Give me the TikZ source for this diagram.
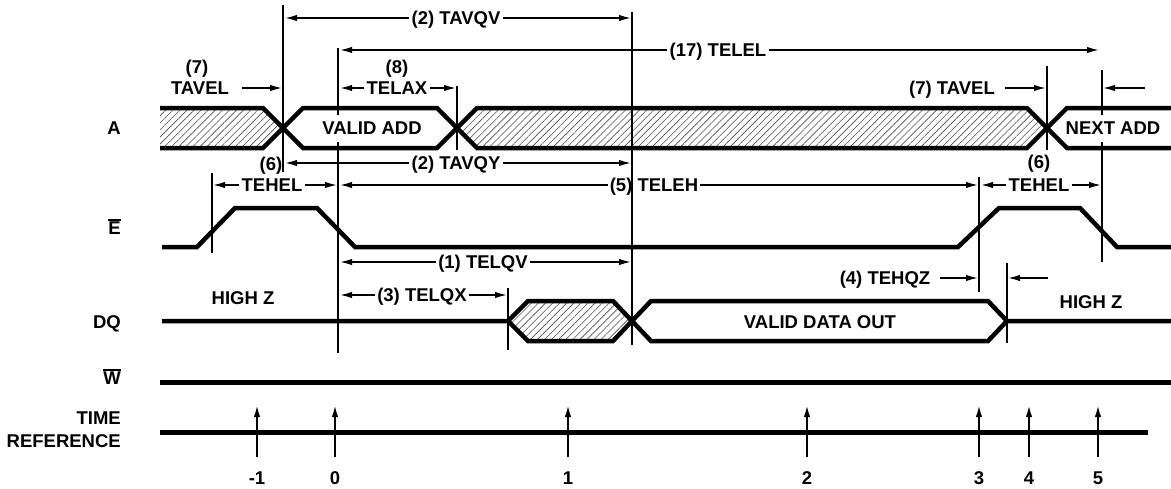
\documentclass[tikz,border=0pt]{standalone}
\usepackage{fontspec}
\setmainfont{Liberation Sans}
\usetikzlibrary{arrows.meta,patterns.meta}
\newcommand\ovlbar[1]{\vbox{\hrule height 1.6pt\kern 1.4pt\hbox{#1}}}
\begin{document}
\begin{tikzpicture}[x=1pt,y=-1pt,
  sig/.style={line width=4.5pt},
  bus/.style={line width=5pt},
  vline/.style={line width=1.5pt},
  dim/.style={line width=1.6pt,-{Latex[length=12pt,width=6.5pt]}},
  tref/.style={line width=2pt,-{Latex[length=12pt,width=6.5pt]}},
  hatch/.style={pattern={Lines[angle=45,distance=5pt,line width=0.6pt]},pattern color=black!70},
  lbl/.style={font=\fontsize{18.5}{21}\bfseries\selectfont,inner sep=2pt,text height=13.3pt,text depth=0pt},
  inlbl/.style={lbl,fill=white,minimum height=27pt,inner sep=1pt},
  sname/.style={lbl,anchor=east}]
\useasboundingbox (0,0) rectangle (1171,488);
% ---- hatched regions
\fill[hatch] (160,108) -- (263,108) -- (283,128) -- (263,148) -- (160,148) -- cycle;
\fill[hatch] (457,128) -- (477,108) -- (1027,108) -- (1047,128) -- (1027,148) -- (477,148) -- cycle;
\fill[hatch] (508,321) -- (528,301) -- (613,301) -- (632,321) -- (613,341) -- (528,341) -- cycle;
% ---- vertical reference lines
\draw[vline] (283,5) -- (283,172);
\draw[vline] (338,48) -- (338,353);
\draw[vline] (457,86) -- (457,150);
\draw[vline] (632,12) -- (632,345);
\draw[vline] (1047,66) -- (1047,150);
\draw[vline] (1102,70) -- (1102,262);
\draw[vline] (212,173) -- (212,253);
\draw[vline] (979,177) -- (979,292);
\draw[vline] (1007,263) -- (1007,343);
\draw[vline] (508,288) -- (508,350);
% ---- A signal
\draw[sig] (160,108) -- (263,108) -- (303,148) -- (437,148) -- (477,108) -- (1027,108) -- (1067,148) -- (1171,148);
\draw[sig] (160,148) -- (263,148) -- (303,108) -- (437,108) -- (477,148) -- (1027,148) -- (1067,108) -- (1171,108);
% ---- E signal
\draw[sig] (162,247) -- (197,247) -- (235,208) -- (317,208) -- (355,247) -- (958,247) -- (999,208) -- (1080,208) -- (1117,247) -- (1171,247);
% ---- DQ signal
\draw[sig] (162,321) -- (508,321) -- (528,301) -- (613,301) -- (651,341) -- (988,341) -- (1007,321) -- (1171,321);
\draw[sig] (508,321) -- (528,341) -- (613,341) -- (651,301) -- (988,301) -- (1007,321);
% ---- W and time reference
\draw[bus] (160,382) -- (1171,382);
\draw[bus] (160,432) -- (1148,432);
% ---- signal names
\node[sname] (nA) at (123,128) {A};
\node[sname] (nE) at (123,228) {\ovlbar{E}};
\node[sname] (nDQ) at (123,322) {DQ};
\node[sname] (nW) at (123,378) {\ovlbar{W}};
\node[sname] (nT) at (123,418) {TIME};
\node[sname] (nR) at (123,441) {REFERENCE};
% ---- in-signal labels
\node[inlbl] (vadd) at (372,128) {VALID ADD};
\node[inlbl] (nadd) at (1113,128) {NEXT ADD};
\node[lbl] (vdo) at (820,322) {VALID DATA OUT};
\node[lbl] (hz1) at (243,298) {HIGH Z};
\node[lbl] (hz2) at (1091,302) {HIGH Z};
% ---- timing labels and arrows
\node[lbl] (tavqv) at (456,18) {(2) TAVQV};
\draw[dim] (tavqv.west) -- (285,18);
\draw[dim] (tavqv.east) -- (631,18);
\node[lbl] (telel) at (718,50) {(17) TELEL};
\draw[dim] (telel.west) -- (340,50);
\draw[dim] (telel.east) -- (1099,50);
\node[lbl] (n7a) at (197,67) {(7)};
\node[lbl] (tavel1) at (200,88) {TAVEL};
\coordinate (a7s) at (242,88);
\coordinate (a7e) at (282,88);
\draw[dim] (a7s) -- (a7e);
\node[lbl] (n8) at (397,67) {(8)};
\node[lbl] (telax) at (397,88) {TELAX};
\draw[dim] (telax.west) -- (340,88);
\draw[dim] (telax.east) -- (456,88);
\node[lbl] (tavel2) at (952,88) {(7) TAVEL};
\coordinate (b7s) at (1005,88);
\coordinate (b7e) at (1046,88);
\coordinate (c7s) at (1145,88);
\coordinate (c7e) at (1103,88);
\draw[dim] (b7s) -- (b7e);
\draw[dim] (c7s) -- (c7e);
\node[lbl] (tavqy) at (456,163) {(2) TAVQY};
\draw[dim] (tavqy.west) -- (285,163);
\draw[dim] (tavqy.east) -- (631,163);
\node[lbl] (n6a) at (271,164) {(6)};
\node[lbl] (n6b) at (1039,162) {(6)};
\node[lbl] (tehel1) at (272,185) {TEHEL};
\draw[dim] (tehel1.west) -- (213,185);
\draw[dim] (tehel1.east) -- (337,185);
\node[lbl] (teleh) at (654,185) {(5) TELEH};
\draw[dim] (teleh.west) -- (340,185);
\draw[dim] (teleh.east) -- (978,185);
\node[lbl] (tehel2) at (1039,185) {TEHEL};
\draw[dim] (tehel2.west) -- (981,185);
\draw[dim] (tehel2.east) -- (1101,185);
\node[lbl] (telqv) at (483,262) {(1) TELQV};
\draw[dim] (telqv.west) -- (340,262);
\draw[dim] (telqv.east) -- (631,262);
\node[lbl] (telqx) at (422,295) {(3) TELQX};
\draw[dim] (telqx.west) -- (340,295);
\draw[dim] (telqx.east) -- (507,295);
\node[lbl] (tehqz) at (885,278) {(4) TEHQZ};
\coordinate (d4s) at (940,278);
\coordinate (d4e) at (978,278);
\coordinate (e4s) at (1048,278);
\coordinate (e4e) at (1008,278);
\draw[dim] (d4s) -- (d4e);
\draw[dim] (e4s) -- (e4e);
% ---- time reference marks
\foreach \xx/\lab [count=\i] in {257/-1,335/0,568/1,807/2,979/3,1029/4,1098/5}{
  \coordinate (tb\i) at (\xx,457);
  \coordinate (tt\i) at (\xx,405);
  \draw[tref] (tb\i) -- (tt\i);
  \node[lbl] (tl\i) at (\xx,478) {\lab};
}
\end{tikzpicture}
\end{document}
